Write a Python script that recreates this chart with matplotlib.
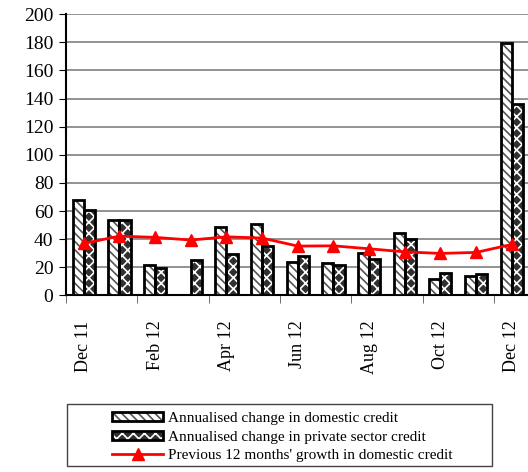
import matplotlib
matplotlib.use('Agg')
import matplotlib.pyplot as plt
import numpy as np
from matplotlib.patches import Rectangle
from matplotlib.legend_handler import HandlerTuple

plt.rcParams['font.family'] = ['Liberation Serif', 'DejaVu Serif']
plt.rcParams['hatch.linewidth'] = 1.2

months = ['Dec 11', 'Jan 12', 'Feb 12', 'Mar 12', 'Apr 12', 'May 12', 'Jun 12',
          'Jul 12', 'Aug 12', 'Sep 12', 'Oct 12', 'Nov 12', 'Dec 12']
domestic = [67.8, 53.6, 21.6, 0.5, 48.4, 50.7, 23.9, 23.2, 30.3, 44.1, 11.4, 14.0, 179.4]
private = [60.7, 53.6, 19.2, 25.1, 29.4, 35.3, 28.0, 21.6, 26.0, 40.3, 15.7, 15.2, 136.2]
growth = [37.0, 42.2, 41.3, 39.4, 41.7, 40.8, 35.1, 35.3, 33.2, 31.0, 29.9, 30.6, 36.3]

fig = plt.figure(figsize=(5.28, 4.72), dpi=100)
ax = fig.add_axes([0.125, 0.374, 0.878, 0.596])

x = np.arange(len(months))
w = 0.31
# hatch fill first, black outline drawn on top
d_fill = ax.bar(x - w/2, domestic, w, facecolor='white', edgecolor='#555555', lw=0,
                hatch='\\\\\\\\', zorder=3)
d_edge = ax.bar(x - w/2, domestic, w, fill=False, edgecolor='black', lw=2, zorder=3.5)
p_fill = ax.bar(x + w/2, private, w, facecolor='#303030', edgecolor='white', lw=0,
                hatch='xxx', zorder=3)
p_edge = ax.bar(x + w/2, private, w, fill=False, edgecolor='black', lw=2, zorder=3.5)
line, = ax.plot(x, growth, color='red', lw=2, marker='^', ms=8, zorder=4)

ax.set_xlim(-0.5, len(months) - 0.5)
ax.set_ylim(0, 200)
ax.set_yticks(range(0, 201, 20))
ax.yaxis.grid(True, color='#808080', lw=1.2, zorder=0)
ax.tick_params(axis='y', labelsize=14, length=5, direction='out', pad=4)

ax.set_xticks(x[::2])
ax.set_xticklabels(months[::2], rotation=90, fontsize=13)
ax.tick_params(axis='x', which='major', length=0, pad=18)
ax.set_xticks(np.arange(-0.5, len(months) - 1, 2), minor=True)
ax.tick_params(axis='x', which='minor', length=6, direction='out', color='#555555')

for s in ['top', 'right']:
    ax.spines[s].set_visible(False)
ax.spines['left'].set_linewidth(1.5)
ax.spines['bottom'].set_linewidth(1.5)

handles = [(d_fill[0], d_edge[0]), (p_fill[0], p_edge[0]), line]
labels = ['Annualised change in domestic credit',
          'Annualised change in private sector credit',
          "Previous 12 months' growth in domestic credit"]
ax.legend(handles, labels, loc='center', bbox_to_anchor=(0.535, 0.074),
          bbox_transform=fig.transFigure, frameon=False, fontsize=11,
          handlelength=3.3, handleheight=0.5, handletextpad=0.35, labelspacing=0.38,
          handler_map={tuple: HandlerTuple(ndivide=1, pad=0)})
fig.patches.append(Rectangle((67/528, 1 - 466/472), (492 - 67)/528, 62/472,
                             transform=fig.transFigure, fill=False,
                             edgecolor='#444444', lw=1))

fig.savefig('out.png', dpi=100)
